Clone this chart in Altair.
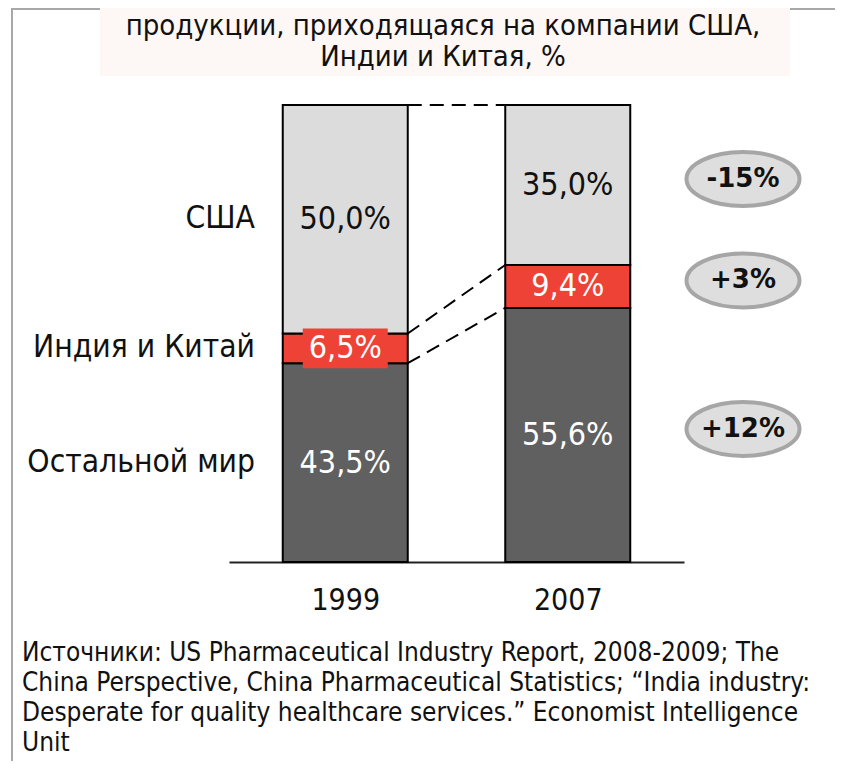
import json
import altair as alt
import pandas as pd

# ---------------- data ----------------
years = ["1999", "2007"]
segments = ["Остальной мир", "Индия и Китай", "США"]
share_1999 = [43.5, 6.5, 50.0]
share_2007 = [55.6, 9.4, 35.0]
label_1999 = ["43,5%", "6,5%", "50,0%"]
label_2007 = ["55,6%", "9,4%", "35,0%"]
changes = ["+12%", "+3%", "-15%"]
title_lines = ["продукции,  приходящаяся на компании США,", "Индии и Китая, %"]
source_lines = [
    "Источники: US Pharmaceutical Industry Report, 2008-2009; The",
    "China Perspective, China Pharmaceutical Statistics; “India industry:",
    "Desperate for quality healthcare services.” Economist Intelligence",
    "Unit",
]

# ---------------- tables ----------------
rows = []
for i, (yr, shares, labels) in enumerate(zip(years, [share_1999, share_2007], [label_1999, label_2007])):
    cum = 0.0
    for j, (seg, v, lab) in enumerate(zip(segments, shares, labels)):
        rows.append(dict(year=yr, pos=i, segment=seg, start=cum, end=cum + v,
                         mid=cum + v / 2, label=lab, change=changes[j]))
        cum += v
df = pd.DataFrame(rows)

conn = []
d99 = df[df.year == years[0]].reset_index(drop=True)
d07 = df[df.year == years[1]].reset_index(drop=True)
for k in range(len(segments)):
    conn.append(dict(pos=0, pos2=1, y1=d99.loc[k, "end"], y2=d07.loc[k, "end"]))
conn_df = pd.DataFrame(conn)

# ---------------- style ----------------
F = "DejaVu Sans Condensed, DejaVu Sans, sans-serif"
FB = "DejaVu Sans, Verdana, sans-serif"
C_DARK, C_RED, C_LIGHT = "#606060", "#ef4236", "#dcdcdc"
FRAME = "#a8a8a8"

W, H = 455, 457
PAD = {"left": 221, "top": 97, "right": 827 - 221 - W, "bottom": 753 - 97 - H}

xaxis = alt.Axis(values=[0, 1], labelExpr=f"{json.dumps(years)}[datum.value]",
                 ticks=False, grid=False, domainColor="#222222", domainWidth=2,
                 labelFontSize=30, labelFont=F, labelColor="#111111",
                 labelPadding=23, title=None)
X = alt.X("pos:Q", scale=alt.Scale(domain=[-0.5, 1.5], nice=False, zero=False), axis=xaxis)
yscale = alt.Scale(domain=[0, 100], nice=False, zero=True)

one = pd.DataFrame({"a": [0]})

# frame lines and title background
frame_v = alt.Chart(one).mark_rule(color=FRAME, strokeWidth=2).encode(
    x=alt.value(-217), y=alt.value(-96), y2=alt.value(670))
frame_h1 = alt.Chart(one).mark_rule(color=FRAME, strokeWidth=2).encode(
    x=alt.value(-218), x2=alt.value(-129), y=alt.value(-96))
frame_h2 = alt.Chart(one).mark_rule(color=FRAME, strokeWidth=2).encode(
    x=alt.value(561), x2=alt.value(620), y=alt.value(-96))
title_bg = alt.Chart(one).mark_rect(color="#fdf7f6").encode(
    x=alt.value(-129), x2=alt.value(561), y=alt.value(-110), y2=alt.value(-29))
title = alt.Chart(one).mark_text(font=F, fontSize=29, color="#111111", align="center",
                                 baseline="alphabetic", lineHeight=31).encode(
    x=alt.value(214), y=alt.value(-70), text=alt.value(title_lines))

connectors = alt.Chart(conn_df).mark_rule(color="black", strokeWidth=2, strokeDash=[14, 8],
                                          xOffset=62.5, x2Offset=-62.5).encode(
    x=X, x2="pos2:Q",
    y=alt.Y("y1:Q", scale=yscale, axis=None), y2="y2:Q")

bars = alt.Chart(df).mark_bar(size=125, stroke="black", strokeWidth=2, orient="vertical").encode(
    x=X,
    y=alt.Y("start:Q", scale=yscale, axis=None), y2="end:Q",
    color=alt.Color("segment:N", scale=alt.Scale(domain=segments, range=[C_DARK, C_RED, C_LIGHT]),
                    legend=None))

box_shape = "M -1 -0.47 L 1 -0.47 L 1 0.47 L -1 0.47 Z"
label_boxes = alt.Chart(df).transform_filter(alt.datum.segment == segments[1]).mark_point(
    shape=box_shape, size=85 * 85, filled=True, fill=C_RED, strokeWidth=0, opacity=1).encode(
    x=X, y=alt.Y("mid:Q", scale=yscale, axis=None))

value_labels = alt.Chart(df).mark_text(font=F, fontSize=32, baseline="middle").encode(
    x=X, y=alt.Y("mid:Q", scale=yscale, axis=None), text="label:N",
    color=alt.condition(alt.datum.segment == segments[2], alt.value("#111111"), alt.value("white")))

cat_labels = alt.Chart(df).transform_filter(alt.datum.year == years[0]).mark_text(
    font=F, fontSize=31.5, align="right", baseline="middle", color="#111111").encode(
    x=alt.value(26), y=alt.Y("mid:Q", scale=yscale, axis=None), text="segment:N")

ell_shape = "M -1 0 A 1 0.478 0 1 0 1 0 A 1 0.478 0 1 0 -1 0 Z"
ellipses = alt.Chart(df).transform_filter(alt.datum.year == years[1]).mark_point(
    shape=ell_shape, size=113 * 113, filled=True, fill="#dedede", stroke="#a6a6a6",
    strokeWidth=4, opacity=1, yOffset=-6).encode(
    x=alt.value(514), y=alt.Y("mid:Q", scale=yscale, axis=None))
change_text = alt.Chart(df).transform_filter(alt.datum.year == years[1]).mark_text(
    font=FB, fontWeight="bold", fontSize=26, baseline="middle", color="#111111", yOffset=-6).encode(
    x=alt.value(514), y=alt.Y("mid:Q", scale=yscale, axis=None), text="change:N")

source = alt.Chart(one).mark_text(font=F, fontSize=26, color="#111111", align="left",
                                  baseline="alphabetic", lineHeight=30).encode(
    x=alt.value(-207), y=alt.value(556), text=alt.value(source_lines))

chart = alt.layer(
    frame_v, frame_h1, frame_h2, title_bg, title, connectors, bars, label_boxes,
    value_labels, cat_labels, ellipses, change_text, source
).properties(
    width=W, height=H, padding=PAD, autosize="none", background="white"
).configure_view(stroke=None)

chart.save("out.html", embed_options={"renderer": "svg", "actions": False})
